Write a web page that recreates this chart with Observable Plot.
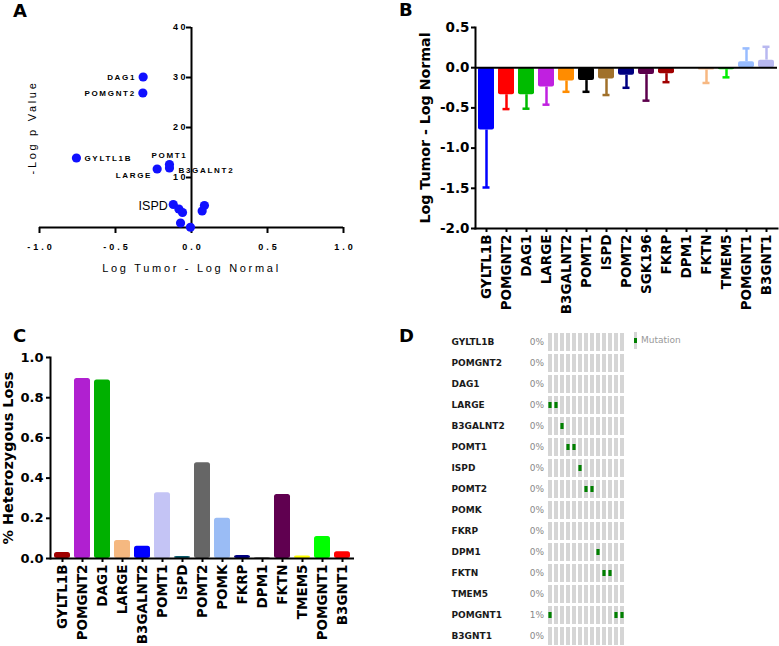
<!DOCTYPE html>
<html><head><meta charset="utf-8">
<script src="https://cdn.jsdelivr.net/npm/d3@7"></script>
<script src="https://cdn.jsdelivr.net/npm/@observablehq/plot@0.6"></script>
<style>
body{margin:0;background:#fff;}
#wrap{position:relative;width:779px;height:646px;overflow:hidden;background:#fff;}
.panel{position:absolute;}
.plabel{position:absolute;font:bold 18px "DejaVu Sans";line-height:20px;color:#000;}
#legend{position:absolute;left:634px;top:332px;font:9px "DejaVu Sans";color:#999;}
#legend .sw{position:absolute;left:0;top:0;width:3.4px;height:17px;background:#d5d5d5;}
#legend .sw i{position:absolute;left:0;top:6px;width:3.4px;height:5px;background:#008000;}
#legend span{position:absolute;left:7px;top:2px;white-space:nowrap;line-height:12px;}
</style></head><body><div id="wrap"></div>
<script>
// ---------- Panel A: volcano ----------
const volcanoLabels = ["DAG1","POMGNT2","GYLTL1B","LARGE","POMT1","B3GALNT2","ISPD","","","","","",""];
const volcanoLogFC   = [-0.318,-0.32,-0.757,-0.226,-0.145,-0.145,-0.12,-0.083,-0.059,-0.072,-0.007,0.07,0.085];
const volcanoNegLogP = [30.1,26.9,13.9,11.7,12.6,11.9,4.6,3.7,3.0,0.9,0.05,3.3,4.4];
const aXTicks = [-1.0,-0.5,0.0,0.5,1.0];
const aYTicks = [10,20,30,40];
const aXTitle = "Log Tumor - Log Normal";
const aYTitle = "-Log p Value";

// ---------- Panel B: log ratio bars ----------
const bGenes = ["GYLTL1B","POMGNT2","DAG1","LARGE","B3GALNT2","POMT1","ISPD","POMT2","SGK196","FKRP","DPM1","FKTN","TMEM5","POMGNT1","B3GNT1"];
const bMean  = [-0.775,-0.336,-0.336,-0.24,-0.165,-0.16,-0.14,-0.094,-0.086,-0.074,0,-0.03,-0.025,0.074,0.094];
const bErrEnd= [-1.49,-0.515,-0.51,-0.46,-0.30,-0.30,-0.34,-0.25,-0.41,-0.18,0,-0.19,-0.12,0.24,0.26];
const bColors= ["#0000ff","#ff0000","#00bb00","#c020e0","#ff8c00","#000000","#a0702a","#000080","#5c004c","#a00000","#ffffff","#f7b882","#00ee00","#98bcff","#b8b8f0"];
const bYTicks = [0.5,0.0,-0.5,-1.0,-1.5,-2.0];

// ---------- Panel C: heterozygous loss ----------
const cGenes = ["GYLTL1B","POMGNT2","DAG1","LARGE","B3GALNT2","POMT1","ISPD","POMT2","POMK","FKRP","DPM1","FKTN","TMEM5","POMGNT1","B3GNT1"];
const cLoss  = [0.03,0.896,0.888,0.09,0.061,0.327,0.01,0.476,0.2,0.015,0.003,0.319,0.013,0.11,0.033];
const cColors= ["#a00000","#b020d0","#00b000","#f5b880","#0000ff","#c4c4f5","#0a5a6a","#666666","#9abcf5","#000080","#222222","#600050","#ffff00","#00ff00","#ff0000"];
const cYTicks = [0.0,0.2,0.4,0.6,0.8,1.0];

// ---------- Panel D: mutation oncoprint ----------
const dGenes = ["GYLTL1B","POMGNT2","DAG1","LARGE","B3GALNT2","POMT1","ISPD","POMT2","POMK","FKRP","DPM1","FKTN","TMEM5","POMGNT1","B3GNT1"];
const dPercent = ["0%","0%","0%","0%","0%","0%","0%","0%","0%","0%","0%","0%","0%","1%","0%"];
const dSamples = ["S1","S2","S3","S4","S5","S6","S7","S8","S9","S10","S11","S12","S13"];
const mutGene   = ["LARGE","LARGE","B3GALNT2","POMT1","POMT1","ISPD","POMT2","POMT2","DPM1","FKTN","FKTN","POMGNT1","POMGNT1","POMGNT1"];
const mutSample = ["S1","S2","S3","S4","S5","S6","S7","S8","S9","S10","S11","S1","S12","S13"];

const wrap = document.getElementById("wrap");
function place(el, left, top) {
  const d = document.createElement("div");
  d.className = "panel"; d.style.left = left + "px"; d.style.top = top + "px";
  d.appendChild(el); wrap.appendChild(d); return el;
}
function label(t, left, top) {
  const d = document.createElement("div");
  d.className = "plabel"; d.textContent = t; d.style.left = left + "px"; d.style.top = top + "px";
  wrap.appendChild(d);
}

// ----- A -----
const volcano = volcanoLabels.map((g, i) => ({gene: g, fc: volcanoLogFC[i], p: volcanoNegLogP[i]}));
const byName = (names) => volcano.filter(d => names.includes(d.gene));
const aFont = {fontFamily: "Liberation Sans", fontWeight: "bold", fontSize: 8, fill: "#000"};
const A = Plot.plot({
  width: 390, height: 280, marginLeft: 39, marginRight: 47, marginTop: 27, marginBottom: 53,
  style: {background: "transparent", overflow: "visible", fontFamily: "Liberation Sans"},
  x: {domain: [-1, 1], label: null},
  y: {domain: [0, 40], axis: null},
  marks: [
    Plot.axisX(aXTicks, {tickSize: 6, tickPadding: 10, strokeWidth: 2, tickFormat: d => d.toFixed(1), fontSize: 9, fontWeight: "bold", label: null}),
    Plot.ruleY([0], {x1: -1, x2: 1, strokeWidth: 2}),
    Plot.ruleX([0], {y1: 0, y2: 40, strokeWidth: 2}),
    Plot.ruleY(aYTicks, {x1: 0, x2: 0, insetLeft: -5, strokeWidth: 2}),
    Plot.text(aYTicks, {x: 0, y: d => d, dx: -6, textAnchor: "end", fontSize: 9, fontWeight: "bold"}),
    Plot.dot(volcano, {x: "fc", y: "p", r: 4.6, fill: "#1010ff", stroke: "none"}),
    Plot.text(byName(["DAG1","POMGNT2"]), {x: "fc", y: "p", text: "gene", dx: -7, textAnchor: "end", ...aFont}),
    Plot.text(byName(["LARGE"]), {x: "fc", y: "p", text: "gene", dx: -5, dy: 6, textAnchor: "end", ...aFont}),
    Plot.text(byName(["GYLTL1B"]), {x: "fc", y: "p", text: "gene", dx: 8, textAnchor: "start", ...aFont}),
    Plot.text(byName(["B3GALNT2"]), {x: "fc", y: "p", text: "gene", dx: 9, dy: 2, textAnchor: "start", ...aFont}),
    Plot.text(byName(["POMT1"]), {x: "fc", y: "p", text: "gene", dy: -9, textAnchor: "middle", ...aFont}),
    Plot.text(byName(["ISPD"]), {x: "fc", y: "p", text: "gene", dx: -5.5, dy: 1, textAnchor: "end", fontFamily: "Liberation Sans", fontSize: 12.5, fill: "#000"}),
    Plot.text([aXTitle], {frameAnchor: "bottom", dy: 41, textAnchor: "middle", lineAnchor: "middle", fontSize: 11, fill: "#000"}),
    Plot.text([aYTitle], {frameAnchor: "left", rotate: -90, dx: -7, textAnchor: "middle", lineAnchor: "middle", fontSize: 11, fill: "#000"})
  ]
});
// letter spacing (Prism-style spaced text) applied by role
{
  const yTickSet = new Set(aYTicks.map(String));
  const geneSet = new Set(volcanoLabels.filter(g => g && g !== "ISPD"));
  d3.select(A).selectAll("g[aria-label='x-axis tick label'] text").attr("letter-spacing", 3).attr("dx", 1.5);
  d3.select(A).selectAll("text").each(function () {
    const t = this.textContent;
    const s = d3.select(this);
    if (yTickSet.has(t)) s.attr("letter-spacing", 2.5).attr("dx", 2.5);
    else if (geneSet.has(t)) s.attr("letter-spacing", 1.7);
    else if (t === aXTitle || t === aYTitle) s.attr("letter-spacing", 2.7);
  });
}
place(A, 0, 0);

// ----- B -----
const bData = bGenes.map((g, i) => ({gene: g, mean: bMean[i], err: bErrEnd[i], color: bColors[i]})).filter(d => d.mean !== 0);
const boldB = {fontFamily: "DejaVu Sans", fontWeight: "bold", fill: "#000"};
const B = Plot.plot({
  width: 389, height: 330, marginLeft: 85, marginRight: 2, marginTop: 27, marginBottom: 102,
  style: {background: "transparent", overflow: "visible", fontFamily: "DejaVu Sans"},
  color: {type: "identity"},
  x: {domain: bGenes, paddingInner: 0.22, paddingOuter: 0.1, label: null},
  y: {domain: [-2, 0.5], label: null},
  marks: [
    Plot.barY(bData, {x: "gene", y1: 0, y2: "mean", fill: "color", rx: 2}),
    Plot.ruleX(bData, {x: "gene", y1: "mean", y2: "err", stroke: "color", strokeWidth: 2.5}),
    Plot.tickY(bData, {x: "gene", y: "err", stroke: "color", strokeWidth: 2.5, insetLeft: 4.5, insetRight: 4.5}),
    Plot.ruleY([0], {strokeWidth: 2}),
    Plot.frame({anchor: "left", strokeWidth: 2}),
    Plot.frame({anchor: "bottom", strokeWidth: 2}),
    Plot.axisY(bYTicks, {tickSize: 4, tickPadding: 2, strokeWidth: 2, tickFormat: d => d.toFixed(1), fontSize: 13.5, ...boldB, label: null}),
    Plot.axisX({tickRotate: -90, tickSize: 4, tickPadding: 2, strokeWidth: 2, fontSize: 13.5, ...boldB, label: null}),
    Plot.text(["Log Tumor - Log Normal"], {frameAnchor: "left", rotate: -90, dx: -50, textAnchor: "middle", lineAnchor: "middle", fontSize: 14.2, ...boldB})
  ]
});
place(B, 390, 0);

// ----- C -----
const cData = cGenes.map((g, i) => ({gene: g, loss: cLoss[i], color: cColors[i]}));
const C = Plot.plot({
  width: 390, height: 326, marginLeft: 50, marginRight: 36, marginTop: 37, marginBottom: 88,
  style: {background: "transparent", overflow: "visible", fontFamily: "DejaVu Sans"},
  color: {type: "identity"},
  x: {domain: cGenes, paddingInner: 0.21, paddingOuter: 0.1, label: null},
  y: {domain: [0, 1], label: null},
  marks: [
    Plot.barY(cData, {x: "gene", y1: 0, y2: "loss", fill: "color", rx: 2.5}),
    Plot.ruleY([0], {strokeWidth: 2}),
    Plot.frame({anchor: "left", strokeWidth: 2}),
    Plot.axisY(cYTicks, {tickSize: 4, tickPadding: 3, strokeWidth: 2, tickFormat: d => d.toFixed(1), fontSize: 13, ...boldB, label: null}),
    Plot.axisX({tickRotate: -90, tickSize: 4, tickPadding: 2, strokeWidth: 2, fontSize: 13.5, ...boldB, label: null}),
    Plot.text(["% Heterozygous Loss"], {frameAnchor: "left", rotate: -90, dx: -42, textAnchor: "middle", lineAnchor: "middle", fontSize: 14.4, ...boldB})
  ]
});
place(C, 0, 320);

// ----- D -----
const grid = dGenes.flatMap(g => dSamples.map(s => ({g, s})));
const muts = mutGene.map((g, i) => ({g, s: mutSample[i]}));
const dRows = dGenes.map((g, i) => ({g, p: dPercent[i]}));
const D = Plot.plot({
  width: 389, height: 326, marginLeft: 155, marginRight: 151, marginTop: 11, marginBottom: 0,
  style: {background: "transparent", overflow: "visible", fontFamily: "DejaVu Sans"},
  x: {domain: dSamples, padding: 0.33, axis: null},
  y: {domain: dGenes, paddingInner: 0.15, paddingOuter: 0, axis: null},
  marks: [
    Plot.cell(grid, {x: "s", y: "g", fill: "#d5d5d5"}),
    Plot.cell(muts, {x: "s", y: "g", fill: "#008000", insetTop: 6, insetBottom: 6, insetLeft: 0.4, insetRight: 0.4}),
    Plot.text(dRows, {y: "g", text: "g", frameAnchor: "left", dx: -94, textAnchor: "start", fontWeight: "bold", fontSize: 9, fill: "#1a1a1a"}),
    Plot.text(dRows, {y: "g", text: "p", frameAnchor: "left", dx: -15.7, textAnchor: "start", fontSize: 9, fill: "#888"})
  ]
});
place(D, 390, 320);

const lg = document.createElement("div");
lg.id = "legend";
lg.innerHTML = '<div class="sw"><i></i></div><span>Mutation</span>';
wrap.appendChild(lg);

label("A", 13, 1);
label("B", 399, 0);
label("C", 13, 326);
label("D", 399, 326);
</script></body></html>
